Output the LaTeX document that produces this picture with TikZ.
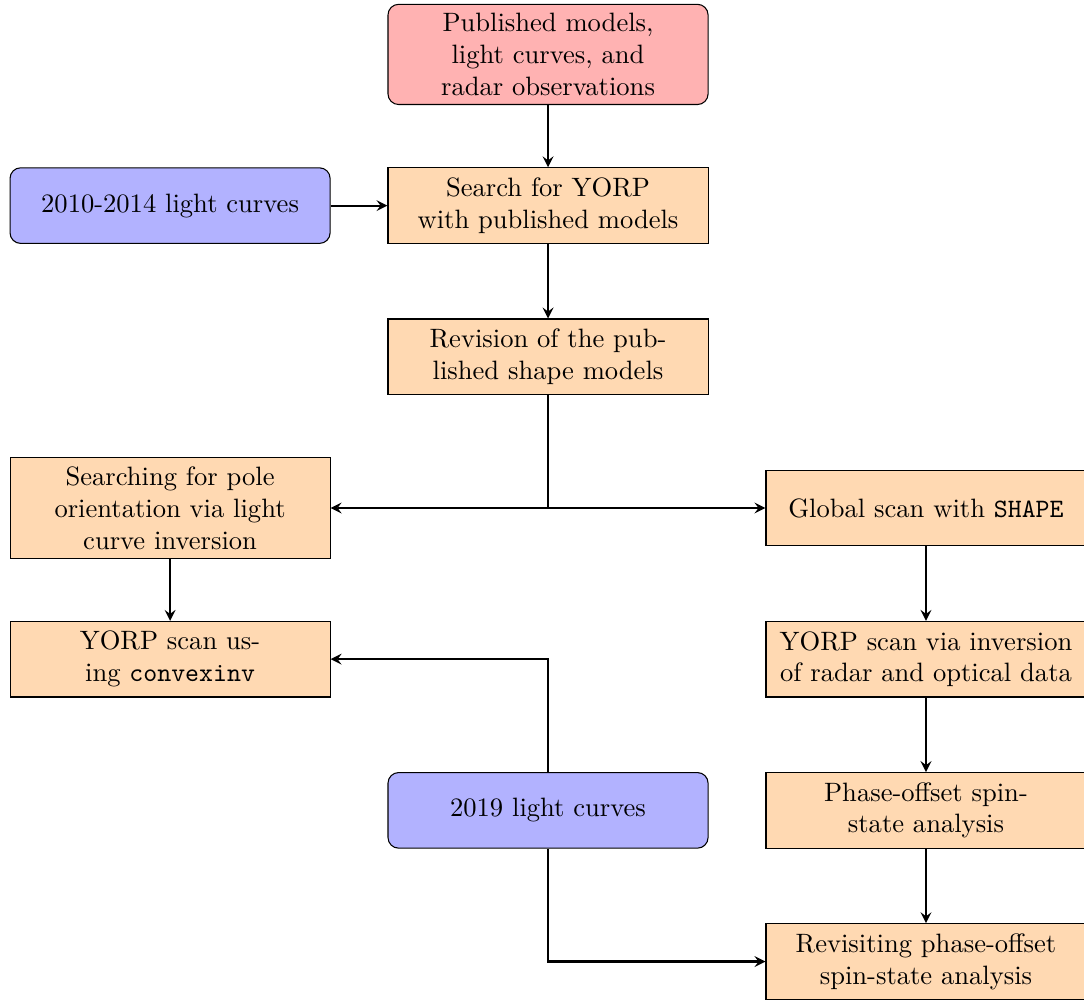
\documentclass[tikz,border=0pt]{standalone}
\usepackage{tikz}

\begin{document}
\begin{tikzpicture}[>=stealth,
  source/.style={rectangle, rounded corners, draw=black, fill=red!30,
    text width=4cm, minimum height=1cm, align=center},
  data/.style={rectangle, rounded corners, draw=black, fill=blue!30,
    text width=4cm, minimum height=1cm, align=center},
  task/.style={rectangle, draw=black, fill=orange!30,
    text width=4cm, minimum height=1cm, align=center},
  link/.style={thick,->}]
  \useasboundingbox (-7.25,0.72) rectangle (7.09,-12.5);

  % centre column
  \node[source] (pub) at (0,0) {Published models, light curves, and radar observations};
  \node[task] (search) at (0,-2) {Search for YORP with published models};
  \node[data] (lc1) at (-5,-2) {2010-2014 light curves};
  \node[task] (rev) at (0,-4) {Revision of the published shape models};
  \node[data] (lc2) at (0,-10) {2019 light curves};

  % left branch
  \node[task] (pole) at (-5,-6) {Searching for pole orientation via light curve inversion};
  \node[task] (convex) at (-5,-8) {YORP scan using \texttt{convexinv}};

  % right branch
  \node[task] (shape) at (5,-6) {Global scan with \texttt{SHAPE}};
  \node[task] (radar) at (5,-8) {YORP scan via inversion of radar and optical data};
  \node[task] (phase) at (5,-10) {Phase-offset spin-state analysis};
  \node[task] (revisit) at (5,-12) {Revisiting phase-offset spin-state analysis};

  \draw[link] (pub) -- (search);
  \draw[link] (lc1) -- (search);
  \draw[link] (search) -- (rev);
  \draw[link] (rev.south) |- (pole.east);
  \draw[link] (rev.south) |- (shape.west);
  \draw[link] (pole) -- (convex);
  \draw[link] (shape) -- (radar);
  \draw[link] (radar) -- (phase);
  \draw[link] (phase) -- (revisit);
  \draw[link] (lc2.north) |- (convex.east);
  \draw[link] (lc2.south) |- (revisit.west);
\end{tikzpicture}
\end{document}
